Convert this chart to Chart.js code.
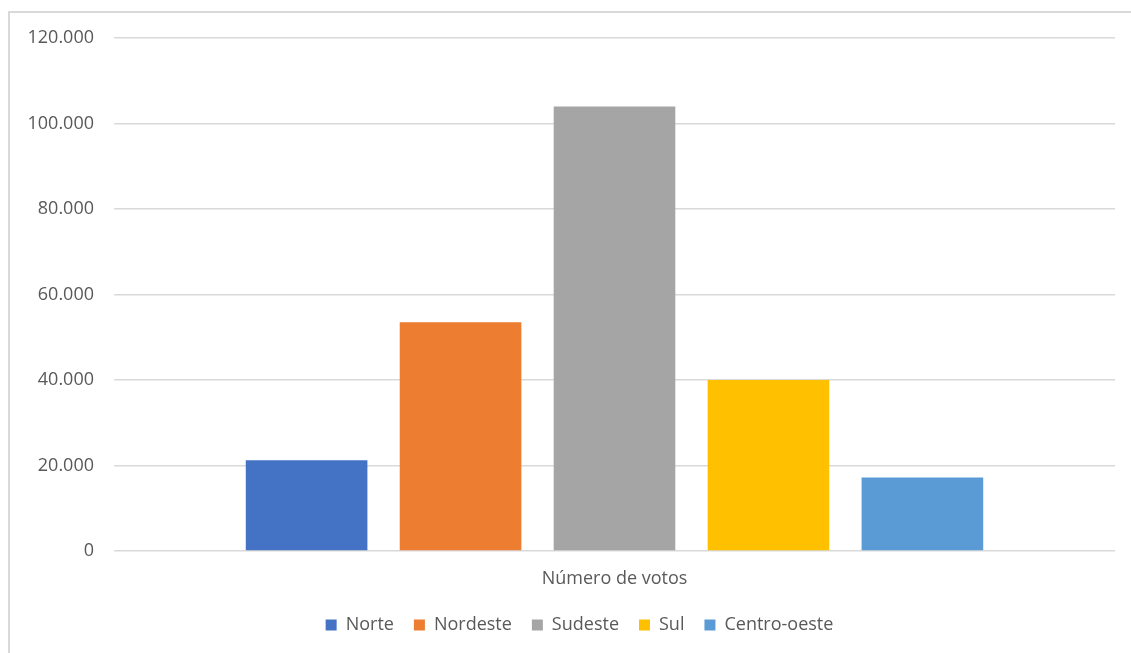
<!DOCTYPE html>
<html lang="pt-BR">
<head>
<meta charset="utf-8">
<title>Número de votos por região</title>
<script src="https://cdn.jsdelivr.net/npm/chart.js@4/dist/chart.umd.min.js"></script>
<style>
  html, body { margin: 0; padding: 0; background: #ffffff; }
  #wrap { position: relative; width: 1131px; height: 653px; overflow: hidden; }
  #frame {
    position: absolute; left: 8px; top: 11px; width: 1200px; height: 700px;
    border-left: 2px solid #d9d9d9; border-top: 2px solid #d9d9d9;
    pointer-events: none; box-sizing: border-box;
  }
  canvas { position: absolute; left: 0; top: 0; }
</style>
</head>
<body>
<div id="wrap">
  <canvas id="chart" width="1131" height="653"></canvas>
  <div id="frame"></div>
</div>
<script>
// Votes per region (single category, one series per region)
const categories = ['Número de votos'];
const regions = ['Norte', 'Nordeste', 'Sudeste', 'Sul', 'Centro-oeste'];
const votes = [21200, 53500, 104000, 40000, 17200];
const colors = ['#4472C4', '#ED7D31', '#A5A5A5', '#FFC000', '#5B9BD5'];
const yTicks = [0, 20000, 40000, 60000, 80000, 100000, 120000];

const textColor = '#595959';
const gridColor = '#d9d9d9';
const font = { family: '"Open Sans", sans-serif', size: 18 };

function fmt(v) {
  return String(v).replace(/\B(?=(\d{3})+(?!\d))/g, '.');
}

const datasets = regions.map((name, i) => ({
  label: name,
  data: [votes[i]],
  backgroundColor: colors[i],
  borderWidth: 0,
  categoryPercentage: 0.769,
  barPercentage: 0.79
}));

// Nudge the legend block a little to the right of the canvas centre
const legendShift = {
  id: 'legendShift',
  afterLayout(chart) {
    const lg = chart.legend;
    if (lg) { lg.left += 17; lg.right += 17; }
  }
};

new Chart(document.getElementById('chart'), {
  type: 'bar',
  data: { labels: categories, datasets },
  plugins: [legendShift],
  options: {
    responsive: false,
    animation: false,
    layout: { padding: { left: 10, right: 16, top: 38, bottom: 9 } },
    plugins: {
      tooltip: { enabled: false },
      legend: {
        position: 'bottom',
        labels: {
          color: textColor,
          font,
          boxWidth: 11,
          boxHeight: 11,
          padding: 20
        }
      }
    },
    scales: {
      x: {
        grid: { display: false },
        border: { display: false },
        afterFit(axis) { axis.height = 45; },
        ticks: { color: textColor, font, padding: 9 }
      },
      y: {
        min: 0,
        max: 120000,
        afterBuildTicks(axis) { axis.ticks = yTicks.map(v => ({ value: v })); },
        afterFit(axis) { axis.width = 104; },
        grid: { color: gridColor, lineWidth: 1.5, drawTicks: false },
        border: { display: false },
        ticks: {
          color: textColor,
          font,
          padding: 20,
          callback: v => fmt(v)
        }
      }
    }
  }
});
</script>
</body>
</html>
